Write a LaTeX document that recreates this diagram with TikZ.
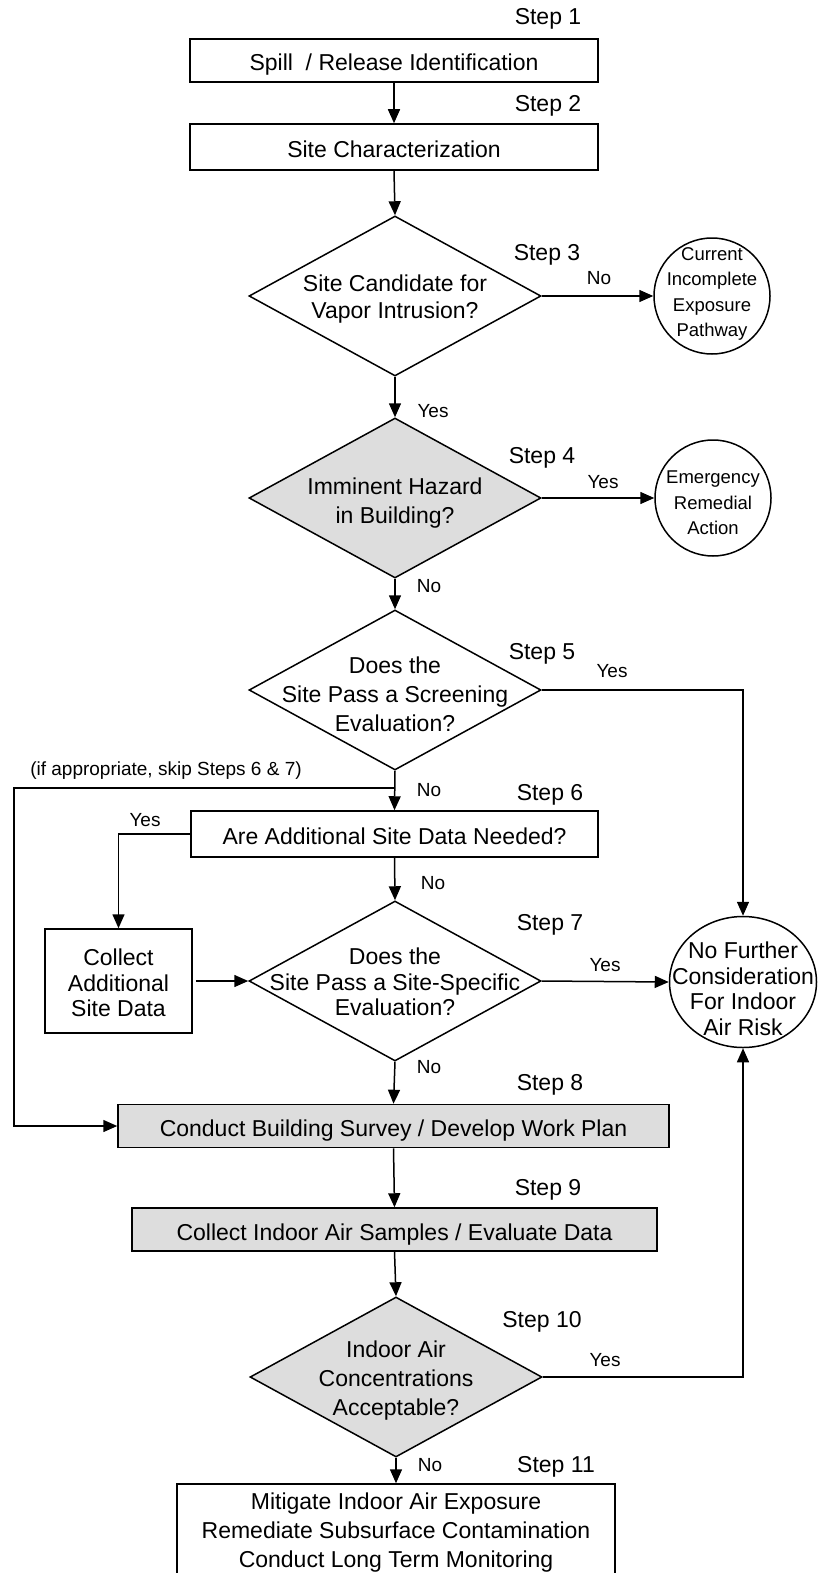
\documentclass[tikz,border=0pt]{standalone}
\usepackage{fontspec}
\setmainfont{Liberation Sans}
\usetikzlibrary{shapes.geometric,arrows.meta}
\definecolor{shade}{RGB}{221,221,221}
\newcommand\fmain{\fontsize{23}{25.5}\selectfont}
\newcommand\fwide{\fontsize{23}{29}\selectfont}
\newcommand\fcirc{\fontsize{18.5}{25.5}\selectfont}
\newcommand\flab{\fontsize{19}{22}\selectfont}
\begin{document}
\begin{tikzpicture}[x=1pt,y=-1pt,
  ln/.style={line width=1.5pt},
  arr/.style={ln,-{Triangle[length=14pt,width=12pt]}},
  box/.style={draw,ln,inner sep=0pt,font=\fmain,align=center,text height=21pt,text depth=0pt},
  gbox/.style={box,fill=shade},
  dia/.style={diamond,draw,ln,inner sep=0pt,minimum width=292pt,minimum height=160pt},
  gdia/.style={dia,fill=shade},
  circ/.style={circle,draw,ln,inner sep=0pt,minimum size=116pt},
  txt/.style={font=\fmain,align=center,inner sep=0pt},
  ctxt/.style={font=\fcirc,align=center,inner sep=0pt},
  wtxt/.style={font=\fwide,align=center,inner sep=0pt},
  steplbl/.style={font=\fmain,inner sep=0pt},
  lbl/.style={font=\flab,inner sep=0pt}]
\useasboundingbox (0,0) rectangle (818,1573);

% nodes
\node[box,minimum width=408pt,minimum height=43pt] (b1) at (394,60.5) {Spill\ \ / Release Identification};
\node[box,minimum width=408pt,minimum height=46pt] (b2) at (394,147) {Site Characterization};
\node[dia] (d3) at (395,296) {};
\node[wtxt,font=\fontsize{23}{27}\selectfont] (d3t) at (395,299) {Site Candidate for\\Vapor Intrusion?};
\node[circ] (c3) at (712,296) {};
\node[ctxt] (c3t) at (712,294) {Current\\Incomplete\\Exposure\\Pathway};
\node[gdia] (d4) at (395,498) {};
\node[wtxt,font=\fontsize{23}{28.5}\selectfont] (d4t) at (395,503) {Imminent Hazard\\in Building?};
\node[circ] (c4) at (713,498) {};
\node[ctxt] (c4t) at (713,503) {Emergency\\Remedial\\Action};
\node[dia] (d5) at (395,690) {};
\node[wtxt] (d5t) at (395,694) {Does the\\Site Pass a Screening\\Evaluation?};
\node[box,minimum width=407pt,minimum height=46pt] (b6) at (394.5,834) {Are Additional Site Data Needed?};
\node[box,minimum width=147pt,minimum height=104pt] (col) at (118.5,981) {};
\node[txt] (colt) at (118.5,983) {Collect\\Additional\\Site Data};
\node[dia] (d7) at (395,981) {};
\node[txt] (d7t) at (395,982) {Does the\\Site Pass a Site-Specific\\Evaluation?};
\node[ellipse,draw,ln,inner sep=0pt,minimum width=147pt,minimum height=131pt] (nf) at (743,982) {};
\node[txt] (nft) at (743,989) {No Further\\Consideration\\For Indoor\\Air Risk};
\node[gbox,minimum width=551pt,minimum height=43pt] (b8) at (393.5,1126) {Conduct Building Survey / Develop Work Plan};
\node[gbox,minimum width=525pt,minimum height=43pt] (b9) at (394.5,1229.5) {Collect Indoor Air Samples / Evaluate Data};
\node[gdia] (d10) at (396,1377) {};
\node[wtxt] (d10t) at (396,1381) {Indoor Air\\Concentrations\\Acceptable?};
\node[box,minimum width=438pt,minimum height=92pt] (b11) at (396,1530) {};
\node[wtxt] (b11t) at (396,1533) {Mitigate Indoor Air Exposure\\Remediate Subsurface Contamination\\Conduct Long Term Monitoring};

% step labels
\node[steplbl] (s1) at (548,19) {Step 1};
\node[steplbl] (s2) at (548,106) {Step 2};
\node[steplbl] (s3) at (547,255) {Step 3};
\node[steplbl] (s4) at (542,458) {Step 4};
\node[steplbl] (s5) at (542,654) {Step 5};
\node[steplbl] (s6) at (550,795) {Step 6};
\node[steplbl] (s7) at (550,925) {Step 7};
\node[steplbl] (s8) at (550,1085) {Step 8};
\node[steplbl] (s9) at (548,1190) {Step 9};
\node[steplbl] (s10) at (542,1322) {Step 10};
\node[steplbl] (s11) at (556,1467) {Step 11};

% connector labels
\node[lbl] (l3no) at (599,278) {No};
\node[lbl] (l3yes) at (433,411) {Yes};
\node[lbl] (l4yes) at (603,482) {Yes};
\node[lbl] (l4no) at (429,586) {No};
\node[lbl] (l5yes) at (612,671) {Yes};
\node[lbl] (l5no) at (429,790) {No};
\node[lbl] (skip) at (166,771) {(if appropriate, skip Steps 6 \& 7)};
\node[lbl] (l6yes) at (145,820) {Yes};
\node[lbl] (l6no) at (433,883) {No};
\node[lbl] (l7yes) at (605,965) {Yes};
\node[lbl] (l7no) at (429,1067) {No};
\node[lbl] (l10yes) at (605,1360) {Yes};
\node[lbl] (l10no) at (430,1465) {No};

% connectors
\draw[arr] (b1.south) -- (b2.north);
\draw[arr] (b2.south) -- (d3.north);
\draw[arr] (d3.east) -- (c3.west);
\draw[arr] (d3.south) -- (d4.north);
\draw[arr] (d4.east) -- (c4.west);
\draw[arr] (d4.south) -- (d5.north);
\draw[arr] (d5.east) -| (nf.north);
\draw[arr] (d5.south) -- (b6.north);
\coordinate (br) at (395,788);
\coordinate (bl) at (14,788);
\draw[arr] (br) -- (bl) |- (b8.west);
\draw[arr] (b6.west) -| (col.north);
\draw[arr] (b6.south) -- (d7.north);
\draw[arr,shorten <=3pt] (col.east) -- (d7.west);
\draw[arr] (d7.east) -- (nf.west);
\draw[arr] (d7.south) -- (b8.north);
\draw[arr] (b8.south) -- (b9.north);
\draw[arr] (b9.south) -- (d10.north);
\draw[arr] (d10.east) -| (nf.south);
\draw[arr] (d10.south) -- (b11.north);
\end{tikzpicture}
\end{document}
